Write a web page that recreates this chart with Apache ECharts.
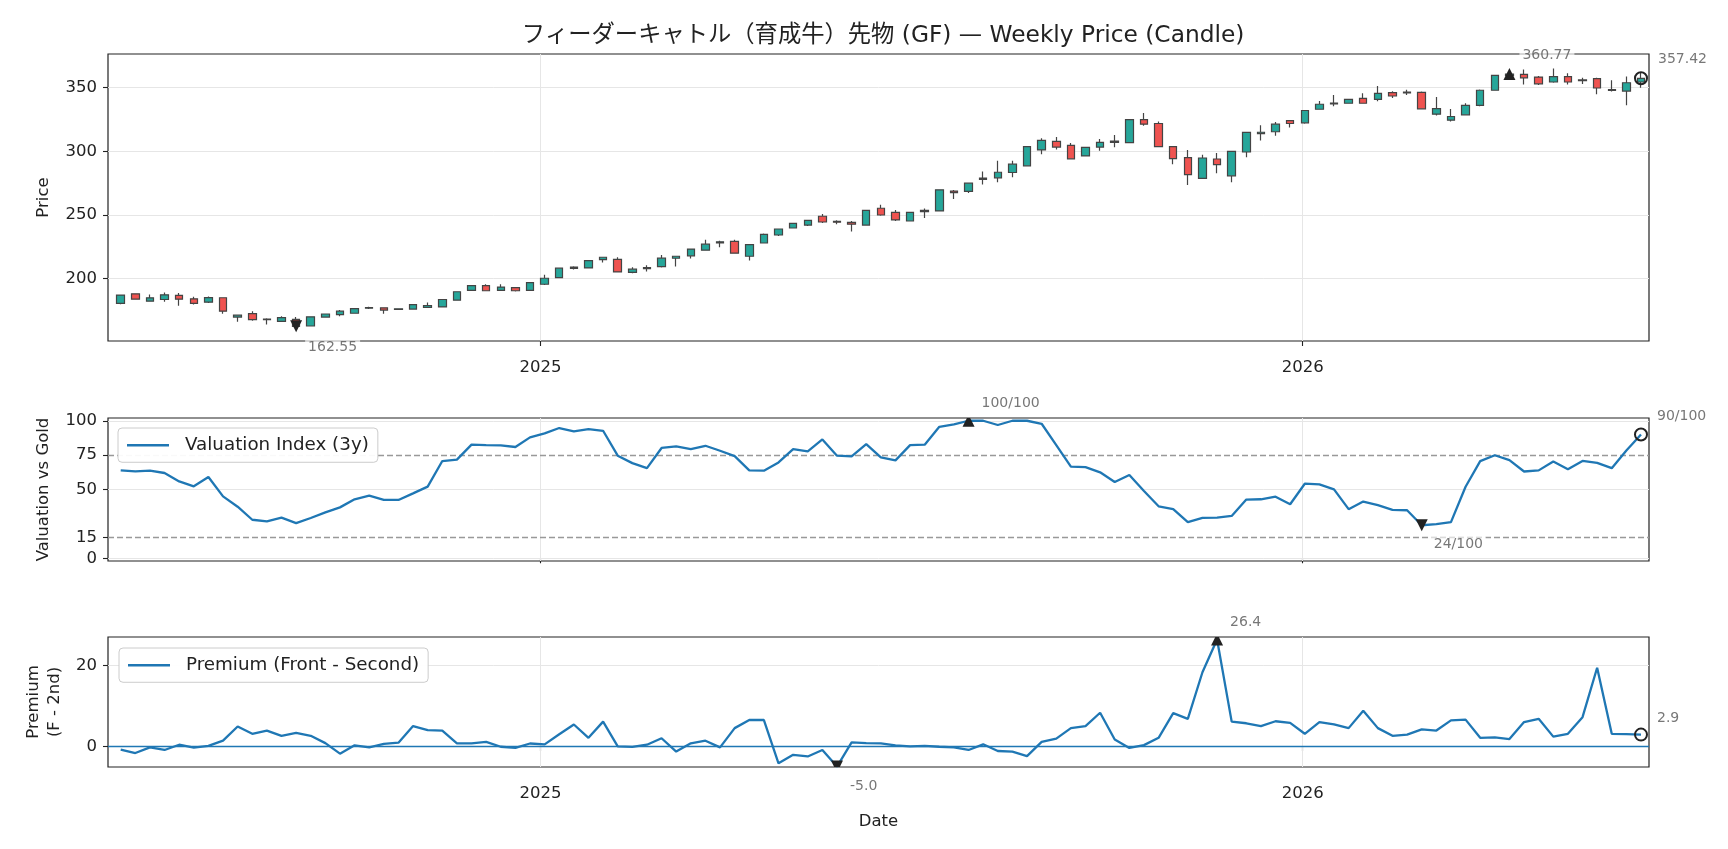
<!DOCTYPE html>
<html><head><meta charset="utf-8">
<script src="https://cdn.jsdelivr.net/npm/echarts@6/dist/echarts.min.js"></script>
<style>html,body{margin:0;padding:0;background:#fff}#c{width:1728px;height:849px}</style>
</head><body><div id="c"></div>
<script>
const dates = [
'2024-06-14','2024-06-21','2024-06-28','2024-07-05','2024-07-12','2024-07-19','2024-07-26','2024-08-02','2024-08-09','2024-08-16',
'2024-08-23','2024-08-30','2024-09-06','2024-09-13','2024-09-20','2024-09-27','2024-10-04','2024-10-11','2024-10-18','2024-10-25',
'2024-11-01','2024-11-08','2024-11-15','2024-11-22','2024-11-29','2024-12-06','2024-12-13','2024-12-20','2024-12-27',
'2025-01-03','2025-01-10','2025-01-17','2025-01-24','2025-01-31','2025-02-07','2025-02-14','2025-02-21','2025-02-28',
'2025-03-07','2025-03-14','2025-03-21','2025-03-28','2025-04-04','2025-04-11','2025-04-18','2025-04-25','2025-05-02',
'2025-05-09','2025-05-16','2025-05-23','2025-05-30','2025-06-06','2025-06-13','2025-06-20','2025-06-27','2025-07-04',
'2025-07-11','2025-07-18','2025-07-25','2025-08-01','2025-08-08','2025-08-15','2025-08-22','2025-08-29','2025-09-05',
'2025-09-12','2025-09-19','2025-09-26','2025-10-03','2025-10-10','2025-10-17','2025-10-24','2025-10-31','2025-11-07',
'2025-11-14','2025-11-21','2025-11-28','2025-12-05','2025-12-12','2025-12-19','2025-12-26',
'2026-01-02','2026-01-09','2026-01-16','2026-01-23','2026-01-30','2026-02-06','2026-02-13','2026-02-20','2026-02-27',
'2026-03-06','2026-03-13','2026-03-20','2026-03-27','2026-04-03','2026-04-10','2026-04-17','2026-04-24','2026-05-01',
'2026-05-08','2026-05-15','2026-05-22','2026-05-29','2026-06-05','2026-06-12'];
const openP = [180.5,188.1,182.3,183.6,186.8,184.1,181.5,185.0,169.8,172.5,167.8,166.4,168.0,162.8,169.8,171.8,172.8,176.8,177.1,175.8,
176.1,177.4,177.8,183.1,190.8,194.5,190.8,192.9,190.8,195.6,200.8,208.0,208.4,215.0,215.2,204.9,207.9,209.5,216.0,217.9,
222.4,228.0,229.2,217.6,228.0,234.3,239.8,242.1,249.0,245.0,244.2,242.1,255.3,252.1,245.3,252.6,253.2,268.8,268.5,278.0,
279.2,283.4,288.6,301.1,307.8,304.7,296.4,303.4,307.0,306.9,325.0,321.9,303.7,295.1,278.7,294.0,280.8,299.5,314.0,315.4,
324.2,322.4,333.1,337.3,337.8,341.7,340.9,346.1,346.0,346.4,329.2,324.5,328.7,336.2,348.0,359.5,360.5,358.4,354.5,358.7,
355.5,357.1,348.6,347.4,354.5];
const closeP = [187.1,183.9,184.9,187.3,183.9,180.5,185.1,174.4,171.3,167.8,168.3,169.3,162.55,170.0,172.2,174.4,176.5,177.3,175.3,176.3,
179.6,178.9,183.6,189.7,194.5,190.5,193.4,190.5,196.9,200.3,208.2,209.0,214.2,216.8,205.3,207.4,208.6,216.1,217.6,223.2,
227.1,228.9,220.0,226.8,234.8,239.0,243.4,245.8,244.5,244.4,242.8,253.7,250.0,246.1,252.1,253.6,269.8,267.6,275.0,278.9,
283.6,289.9,303.7,308.6,303.4,294.1,303.2,307.1,308.0,325.0,321.4,303.7,294.3,281.8,294.8,289.6,300.0,314.9,315.0,321.4,
321.9,332.1,337.0,338.0,340.9,337.8,345.6,343.5,346.6,333.4,333.6,327.4,336.2,348.0,359.7,360.77,357.8,353.1,358.7,354.5,
356.1,349.8,347.9,353.9,357.42];
const lowP = [179.8,183.4,181.9,181.8,178.6,179.7,180.9,172.5,166.2,167.0,164.0,166.0,161.8,162.3,169.4,170.4,172.4,176.2,172.5,175.4,
175.8,177.0,177.5,182.8,190.2,190.0,190.5,189.8,190.5,195.0,200.5,207.2,208.0,212.6,204.8,204.2,205.6,208.7,209.5,215.8,
222.0,224.7,219.6,214.2,227.6,233.5,239.4,241.4,243.8,242.8,237.1,241.8,249.5,245.2,245.0,247.7,252.8,262.5,267.3,274.0,
275.8,279.7,288.2,297.7,301.4,293.8,296.0,300.4,303.2,306.5,320.1,303.3,289.9,273.5,278.3,282.8,275.8,295.3,308.6,312.2,
318.8,321.6,332.6,335.5,337.4,337.4,339.4,342.0,344.3,333.0,328.2,323.5,328.3,335.5,347.6,358.0,352.6,352.2,354.0,352.6,
352.9,344.8,347.0,336.2,350.0];
const highP = [187.6,188.6,187.6,189.2,188.7,185.7,186.0,185.3,171.8,174.3,168.8,170.4,169.8,170.5,172.6,175.4,176.9,177.9,177.4,176.6,
180.0,181.3,184.0,190.0,194.9,195.6,195.6,193.2,197.2,203.0,208.6,209.8,214.6,217.2,216.9,209.0,210.5,218.5,218.0,223.6,
230.5,229.8,230.5,227.2,235.4,239.4,243.8,246.2,250.8,245.8,245.2,254.0,258.0,254.0,252.5,255.1,270.3,269.6,275.4,284.1,
292.7,292.7,304.1,310.4,311.2,306.5,303.6,309.7,312.8,325.4,330.2,323.5,304.1,301.1,297.3,298.7,300.4,315.3,320.6,323.0,
324.6,332.5,339.6,344.3,341.3,345.6,351.3,347.2,348.5,347.0,342.7,333.2,337.8,348.6,360.1,362.0,364.4,359.2,365.2,361.4,
357.9,357.8,355.8,358.9,361.7];
const valuation = [63.9,63.2,63.7,62.0,55.9,52.3,59.1,45.0,37.5,28.0,26.8,29.5,25.6,29.3,33.4,37.0,42.9,45.5,42.4,42.4,
47.2,52.1,70.7,71.7,82.6,82.3,82.1,80.9,87.9,90.8,94.7,92.3,93.9,92.7,74.6,69.2,65.5,80.2,81.4,79.4,
81.8,78.2,74.3,63.9,63.7,69.7,79.4,77.7,86.4,74.6,74.1,83.0,73.4,71.2,82.3,82.6,95.6,97.3,100,100,
96.9,100,100,97.8,82.3,66.6,66.3,62.5,55.4,60.5,48.9,37.8,35.8,26.3,29.4,29.6,30.8,42.7,42.9,44.8,
39.3,54.2,53.7,50.1,35.7,41.2,38.6,35.2,34.9,24,24.8,26.3,52.0,70.6,74.9,71.3,63.1,63.9,70.4,64.8,
70.8,69.4,65.5,78.3,90];
const premium = [-0.8,-1.65,-0.25,-0.9,0.4,-0.3,0.1,1.4,4.9,3.1,3.9,2.6,3.3,2.6,0.8,-1.8,0.25,-0.25,0.6,0.9,
5.0,4.0,3.9,0.75,0.75,1.1,-0.1,-0.4,0.7,0.5,3.0,5.4,2.1,6.1,0.0,-0.15,0.4,2.0,-1.3,0.75,
1.4,-0.25,4.5,6.5,6.5,-4.2,-2.1,-2.5,-0.9,-5.0,1.0,0.8,0.75,0.25,0.0,0.1,-0.1,-0.25,-0.9,0.5,
-1.15,-1.3,-2.4,1.1,1.9,4.5,5.0,8.3,1.7,-0.4,0.3,2.1,8.2,6.8,18.3,26.4,6.1,5.7,5.0,6.2,
5.8,3.1,6.0,5.4,4.5,8.8,4.5,2.6,2.9,4.2,3.9,6.4,6.6,2.1,2.2,1.8,6.0,6.8,2.4,3.1,
7.2,19.4,3.1,3.0,2.9];
const priceTicks = [200, 250, 300, 350];
const valTicks = [0, 15, 50, 75, 100];
const valBands = [15, 75];
const premTicks = [0, 20];
const yearTicks = ['2025-01-01', '2026-01-01'];

const T = s => Date.parse(s);
const yearT = yearTicks.map(T);
const X_MIN = T('2024-06-07T22:00:00Z'), X_MAX = T('2026-06-15T20:00:00Z');
const LAT = "'DejaVu Sans','Noto Sans CJK JP',sans-serif";
const INK = '#222';
const BLUE = '#1f77b4';
const GRIDC = '#e6e6e6';

const grids = [
  {left:108, width:1541, top:54, height:287},
  {left:108, width:1541, top:418, height:143},
  {left:108, width:1541, top:637, height:130}
].map(g => Object.assign(g, {show:true, borderColor:INK, borderWidth:1.2, backgroundColor:'transparent'}));

function xAxis(i, showLabel, extra) {
  return Object.assign({
    type:'value', gridIndex:i, min:X_MIN, max:X_MAX,
    axisLine:{show:false},
    axisTick:{show:true, length:5, lineStyle:{color:INK, width:1.1}, customValues:yearT},
    axisLabel:{show:showLabel, customValues:yearT, formatter:v => String(new Date(v).getUTCFullYear()),
      fontFamily:LAT, fontSize:16.5, color:INK, margin:18},
    splitLine:{show:false}
  }, extra || {});
}
function yAxis(i, min, max, ticks, name, gap) {
  return {
    type:'value', gridIndex:i, min:min, max:max,
    axisLine:{show:false},
    axisTick:{show:true, length:5, lineStyle:{color:INK, width:1.1}, customValues:ticks},
    axisLabel:{customValues:ticks, fontFamily:LAT, fontSize:16.5, color:INK, margin:11},
    splitLine:{show:false},
    name:name, nameLocation:'middle', nameGap:gap,
    nameTextStyle:{fontFamily:LAT, fontSize:16.5, color:INK, lineHeight:21}
  };
}
function gridLines(i, yVals, extra) {
  const data = yVals.map(v => ({yAxis:v})).concat(yearT.map(v => ({xAxis:v}))).concat(extra || []);
  return {type:'line', xAxisIndex:i, yAxisIndex:i, data:[], silent:true, z:1,
    markLine:{silent:true, animation:false, z:1, symbol:['none','none'], label:{show:false},
      lineStyle:{color:GRIDC, width:1, type:'solid'}, data:data}};
}
// marker shapes, clipped to the plot area like the reference
function markerSeries(i, pts) {
  return {type:'custom', xAxisIndex:i, yAxisIndex:i, z:6, clip:true, silent:true,
    encode:{x:0, y:1}, data:pts,
    renderItem:(params, api) => {
      const c = api.coord([api.value(0), api.value(1)]);
      const k = api.value(2), s = 6;
      if (k === 0) return {type:'polygon', shape:{points:[[c[0], c[1]-s],[c[0]+s, c[1]+s],[c[0]-s, c[1]+s]]}, style:{fill:INK}};
      if (k === 1) return {type:'polygon', shape:{points:[[c[0], c[1]+s],[c[0]+s, c[1]-s],[c[0]-s, c[1]-s]]}, style:{fill:INK}};
      return {type:'circle', shape:{cx:c[0], cy:c[1], r:6}, style:{fill:'transparent', stroke:INK, lineWidth:2}};
    }};
}
const labelBase = {show:true, position:'inside', align:'left', verticalAlign:'middle',
  fontFamily:LAT, fontSize:14, color:'#555', backgroundColor:'rgba(255,255,255,0.8)', padding:[1,3]};
function labelSeries(i, items) {
  return {type:'scatter', xAxisIndex:i, yAxisIndex:i, z:7, clip:false, silent:true, symbolSize:1,
    itemStyle:{color:'rgba(0,0,0,0)'},
    data:items.map(it => ({value:[it[0], it[1]], label:Object.assign({}, labelBase, {formatter:it[2], offset:[it[3], it[4]]})}))};
}
const tx = dates.map(T);
const last = dates.length - 1;
const iPMax = closeP.indexOf(Math.max(...closeP)), iPMin = closeP.indexOf(Math.min(...closeP));
const iVMax = valuation.indexOf(Math.max(...valuation)), iVMin = valuation.indexOf(Math.min(...valuation));
const iRMax = premium.indexOf(Math.max(...premium)), iRMin = premium.indexOf(Math.min(...premium));
const vfmt = v => Math.round(v) + '/100';
const legendBase = {selectedMode:false, icon:'rect', itemWidth:42, itemHeight:2.5, z:10,
  padding:[8,9,8,9], borderColor:'#cccccc', borderWidth:1, borderRadius:4, backgroundColor:'rgba(255,255,255,0.94)',
  textStyle:{fontFamily:LAT, fontSize:18.3, color:INK, padding:[0,0,0,11]}};

const option = {
  animation:false,
  backgroundColor:'#fff',
  title:{text:'フィーダーキャトル（育成牛）先物 (GF) — Weekly Price (Candle)', left:878, top:19, textAlign:'center',
    textStyle:{fontFamily:LAT, fontSize:23.3, fontWeight:'normal', color:INK}},
  legend:[
    Object.assign({data:['Valuation Index (3y)'], left:118, top:428}, legendBase),
    Object.assign({data:['Premium (Front - Second)'], left:119, top:648}, legendBase)
  ],
  grid:grids,
  xAxis:[xAxis(0, true), xAxis(1, false),
    xAxis(2, true, {name:'Date', nameLocation:'middle', nameGap:46, nameTextStyle:{fontFamily:LAT, fontSize:16.5, color:INK}})],
  yAxis:[yAxis(0, 151, 376.5, priceTicks, 'Price', 48),
    yAxis(1, -2, 102, valTicks, 'Valuation vs Gold', 48),
    yAxis(2, -5.1, 27.0, premTicks, 'Premium\n(F - 2nd)', 41)],
  series:[
    gridLines(0, priceTicks),
    gridLines(1, valTicks.filter(v => valBands.indexOf(v) < 0),
      valBands.map(v => ({yAxis:v, lineStyle:{color:'#999', width:1.3, type:[6,3]}}))),
    gridLines(2, premTicks.filter(v => v !== 0)),
    {type:'candlestick', name:'Price', xAxisIndex:0, yAxisIndex:0, barWidth:8, z:3,
     encode:{x:0, y:[1,2,3,4]},
     data:dates.map((d, i) => [tx[i], openP[i], closeP[i], lowP[i], highP[i]]),
     itemStyle:{color:'#26a69a', color0:'#ef5350', borderColor:'#444', borderColor0:'#444', borderWidth:1.2}},
    {type:'line', name:'Valuation Index (3y)', xAxisIndex:1, yAxisIndex:1, z:3,
     data:dates.map((d, i) => [tx[i], valuation[i]]), symbol:'none', lineStyle:{color:BLUE, width:2.3}, itemStyle:{color:BLUE}},
    {type:'line', name:'Premium (Front - Second)', xAxisIndex:2, yAxisIndex:2, z:3,
     data:dates.map((d, i) => [tx[i], premium[i]]), symbol:'none', lineStyle:{color:BLUE, width:2.3}, itemStyle:{color:BLUE},
     markLine:{silent:true, animation:false, z:2, symbol:['none','none'], label:{show:false}, lineStyle:{color:BLUE, width:1.3, type:'solid'}, data:[{yAxis:0}]}},
    markerSeries(0, [[tx[iPMax], closeP[iPMax], 0], [tx[iPMin], closeP[iPMin], 1], [tx[last], closeP[last], 2]]),
    markerSeries(1, [[tx[iVMax], valuation[iVMax], 0], [tx[iVMin], valuation[iVMin], 1], [tx[last], valuation[last], 2]]),
    markerSeries(2, [[tx[iRMax], premium[iRMax], 0], [tx[iRMin], premium[iRMin], 1], [tx[last], premium[last], 2]]),
    labelSeries(0, [[tx[iPMax], closeP[iPMax], closeP[iPMax].toFixed(2), 10, -19],
                    [tx[iPMin], closeP[iPMin], closeP[iPMin].toFixed(2), 9, 21],
                    [tx[last], closeP[last], closeP[last].toFixed(2), 14, -19]]),
    labelSeries(1, [[tx[iVMax], valuation[iVMax], vfmt(valuation[iVMax]), 10, -17],
                    [tx[iVMin], valuation[iVMin], vfmt(valuation[iVMin]), 9, 19],
                    [tx[last], valuation[last], vfmt(valuation[last]), 13, -18]]),
    labelSeries(2, [[tx[iRMax], premium[iRMax], premium[iRMax].toFixed(1), 10, -17],
                    [tx[iRMin], premium[iRMin], premium[iRMin].toFixed(1), 10, 20],
                    [tx[last], premium[last], premium[last].toFixed(1), 13, -16]])
  ]
};
const chart = echarts.init(document.getElementById('c'), null, {renderer:'canvas'});
chart.setOption(option);
</script></body></html>
